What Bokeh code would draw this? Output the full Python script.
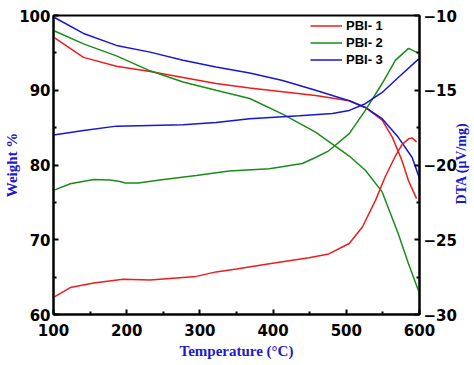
import math
from bokeh.plotting import figure
from bokeh.models import Range1d, LinearAxis, FixedTicker, Legend, LegendItem, Label
from bokeh.embed import file_html
from bokeh.resources import INLINE

# Weight curves (left axis, %)
t_w_red = [100, 141, 186, 232, 277, 322, 368, 413, 458, 504, 526, 549, 563, 576, 585, 596]
w_red = [97.1, 94.4, 93.2, 92.5, 91.7, 90.9, 90.3, 89.8, 89.3, 88.6, 87.7, 86.0, 83.7, 80.6, 77.9, 75.5]
t_w_green = [100, 141, 186, 232, 277, 322, 368, 413, 458, 504, 526, 549, 571, 585, 600]
w_green = [98.0, 96.2, 94.6, 92.6, 91.1, 90.0, 88.9, 86.8, 84.4, 81.2, 79.3, 76.4, 70.8, 66.8, 62.8]
t_w_blue = [100, 141, 186, 232, 277, 322, 368, 413, 458, 504, 526, 549, 571, 590, 600]
w_blue = [99.8, 97.6, 96.0, 95.1, 94.0, 93.1, 92.3, 91.3, 90.0, 88.6, 87.7, 86.2, 83.7, 81.0, 78.2]

# DTA curves (right axis, uV/mg)
t_d_red = [100, 123, 155, 195, 232, 295, 322, 350, 395, 449, 476, 504, 522, 540, 553, 567, 576, 585, 590, 596]
d_red = [-28.85, -28.2, -27.9, -27.65, -27.7, -27.45, -27.15, -26.95, -26.6, -26.2, -25.95, -25.25,
         -24.15, -22.35, -20.8, -19.4, -18.65, -18.25, -18.2, -18.45]
t_d_green = [100, 123, 155, 177, 191, 198, 216, 245, 295, 340, 395, 440, 458, 476, 504, 526, 549, 567, 585, 600]
d_green = [-21.7, -21.25, -20.97, -21.0, -21.1, -21.2, -21.2, -21.0, -20.7, -20.4, -20.25, -19.9,
           -19.5, -19.05, -17.9, -16.35, -14.55, -13.0, -12.2, -12.55]
t_d_blue = [100, 141, 186, 232, 277, 322, 368, 436, 481, 504, 526, 549, 571, 599]
d_blue = [-18.0, -17.7, -17.4, -17.35, -17.3, -17.15, -16.9, -16.7, -16.55, -16.35, -15.9, -15.15, -14.15, -12.9]

labels = ["PBI- 1", "PBI- 2", "PBI- 3"]
x_ticks = [100, 200, 300, 400, 500, 600]
w_ticks = [60, 70, 80, 90, 100]
d_ticks = [-30, -25, -20, -15, -10]

RED, GREEN, BLUE = "#ee1c1c", "#1a8c1a", "#1616d8"
TICK_FONT = "DejaVu Sans"
LEGEND_FONT = "Liberation Sans"
LABEL_FONT = "Liberation Serif"
LABEL_COLOR = "#1a1ad0"

p = figure(width=474, height=365, output_backend="svg", toolbar_location=None,
           x_range=Range1d(100, 600), y_range=Range1d(60, 100),
           min_border_left=53, min_border_right=53, min_border_top=15, min_border_bottom=51)
p.extra_y_ranges = {"dta": Range1d(-30, -10)}

p.xgrid.visible = False
p.ygrid.visible = False
p.outline_line_color = "black"
p.outline_line_width = 2

lw = 1.5
r1 = p.line(t_w_red, w_red, color=RED, line_width=lw)
r2 = p.line(t_w_green, w_green, color=GREEN, line_width=lw)
r3 = p.line(t_w_blue, w_blue, color=BLUE, line_width=lw)
p.line(t_d_red, d_red, color=RED, line_width=lw, y_range_name="dta")
p.line(t_d_green, d_green, color=GREEN, line_width=lw, y_range_name="dta")
p.line(t_d_blue, d_blue, color=BLUE, line_width=lw, y_range_name="dta")

right = LinearAxis(y_range_name="dta")
p.add_layout(right, "right")

def style(ax, ticks):
    ax.ticker = FixedTicker(ticks=ticks, minor_ticks=[(a + b) / 2 for a, b in zip(ticks[:-1], ticks[1:])])
    ax.axis_line_width = 2
    ax.axis_line_color = "black"
    ax.major_tick_in = 5
    ax.major_tick_out = 0
    ax.minor_tick_in = 3
    ax.minor_tick_out = 0
    ax.major_tick_line_width = 2
    ax.minor_tick_line_width = 2
    ax.major_label_text_font = TICK_FONT
    ax.major_label_text_font_style = "bold"
    ax.major_label_text_font_size = "15px"
    ax.major_label_text_color = "black"
    ax.major_label_standoff = 4
    ax.axis_label_text_font = LABEL_FONT
    ax.axis_label_text_font_style = "bold"
    ax.axis_label_text_font_size = "15px"
    ax.axis_label_text_color = LABEL_COLOR
    ax.axis_label_standoff = 0

style(p.xaxis[0], x_ticks)
style(p.yaxis[0], w_ticks)
style(right, d_ticks)
p.xaxis[0].axis_label = "Temperature (°C)"
p.xaxis[0].major_label_standoff = 9
p.xaxis[0].axis_label_standoff = 4
p.yaxis[0].axis_label = "Weight %"
p.yaxis[0].major_label_standoff = 3
p.yaxis[0].axis_label_standoff = -4
right.major_label_standoff = 4

# right-axis title, reading bottom to top, placed in the right side panel (not clipped)
dta_title = Label(x=2, y=151, x_units="screen", y_units="screen", text="DTA (μV/mg)",
                  angle=math.pi / 2, angle_units="rad", text_align="center", text_baseline="middle",
                  text_font=LABEL_FONT, text_font_style="bold", text_font_size="14px",
                  text_color=LABEL_COLOR)
p.add_layout(dta_title, "right")

legend = Legend(items=[LegendItem(label=labels[0], renderers=[r1]),
                       LegendItem(label=labels[1], renderers=[r2]),
                       LegendItem(label=labels[2], renderers=[r3])],
                location=(257, 246))
legend.border_line_color = None
legend.background_fill_alpha = 0
legend.label_text_font = LEGEND_FONT
legend.label_text_font_style = "bold"
legend.label_text_font_size = "13px"
legend.label_text_color = "black"
legend.glyph_width = 32
legend.glyph_height = 17
legend.label_height = 17
legend.label_standoff = 4
legend.spacing = 0
legend.padding = 0
legend.margin = 0
p.add_layout(legend)

open("out.html", "w").write(file_html(p, INLINE))
